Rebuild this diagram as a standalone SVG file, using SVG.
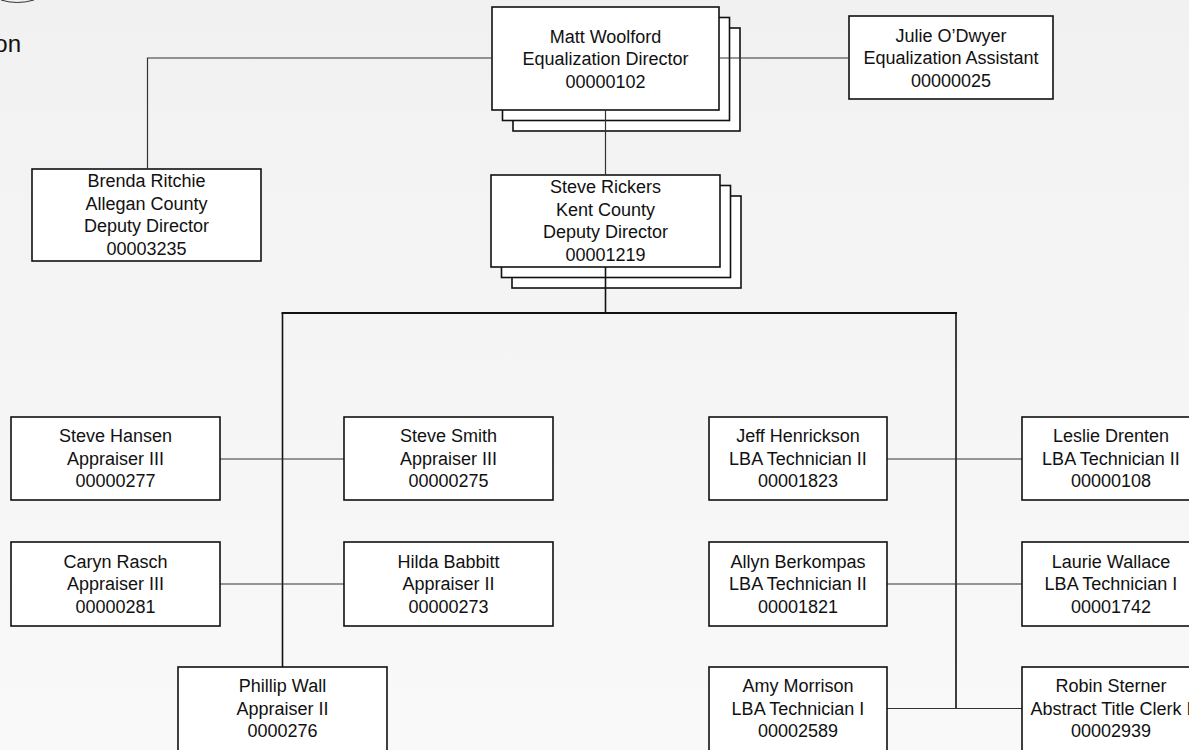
<svg xmlns="http://www.w3.org/2000/svg" width="1189" height="750" viewBox="0 0 1189 750">
<defs>
<linearGradient id="bg" x1="0" y1="0" x2="0" y2="1">
<stop offset="0" stop-color="#f1f1f1"/>
<stop offset="1" stop-color="#f9f9f9"/>
</linearGradient>
<style>
.box{fill:#ffffff;stroke:#111;stroke-width:1.6}
.t{font-family:"Liberation Sans",Arial,sans-serif;font-size:18px;fill:#111;text-anchor:middle}
.c{fill:none;stroke:#333;stroke-width:1.2}
.ck{fill:none;stroke:#111;stroke-width:1.6}
.bus{fill:none;stroke:#111;stroke-width:2.2}
</style>
</defs>
<rect x="0" y="0" width="1189" height="750" fill="url(#bg)"/>
<path d="M 1 0 Q 17 5 34 0" fill="none" stroke="#333" stroke-width="1"/>
<text x="21" y="52" font-family="'Liberation Sans',Arial,sans-serif" font-size="24" fill="#111" text-anchor="end">on</text>

<g id="node-matt">
<rect class="box" x="513" y="28" width="227" height="103"/>
<rect class="box" x="502.5" y="17.5" width="227" height="103"/>
<rect class="box" x="492" y="7" width="227" height="103"/>
<text class="t"><tspan x="605.5" y="42.5">Matt Woolford</tspan><tspan x="605.5" y="65">Equalization Director</tspan><tspan x="605.5" y="87.5">00000102</tspan></text>
</g>
<g id="node-julie">
<rect class="box" x="849" y="16" width="204" height="83"/>
<text class="t"><tspan x="951" y="41.5">Julie O’Dwyer</tspan><tspan x="951" y="64">Equalization Assistant</tspan><tspan x="951" y="86.5">00000025</tspan></text>
</g>
<g id="node-brenda">
<rect class="box" x="32" y="169" width="229" height="92"/>
<text class="t"><tspan x="146.5" y="187">Brenda Ritchie</tspan><tspan x="146.5" y="209.5">Allegan County</tspan><tspan x="146.5" y="232">Deputy Director</tspan><tspan x="146.5" y="254.5">00003235</tspan></text>
</g>
<g id="node-rickers">
<rect class="box" x="512" y="196" width="229" height="92"/>
<rect class="box" x="501.5" y="185.5" width="229" height="92"/>
<rect class="box" x="491" y="175" width="229" height="92"/>
<text class="t"><tspan x="605.5" y="193">Steve Rickers</tspan><tspan x="605.5" y="215.5">Kent County</tspan><tspan x="605.5" y="238">Deputy Director</tspan><tspan x="605.5" y="260.5">00001219</tspan></text>
</g>

<g id="connectors">
<polyline class="c" points="492,58 147.5,58 147.5,169"/>
<line class="c" x1="719" y1="58" x2="849" y2="58"/>
<line class="c" x1="605.5" y1="110" x2="605.5" y2="175"/>
<line class="ck" x1="605.5" y1="267" x2="605.5" y2="313"/>
<line class="bus" x1="281.5" y1="313" x2="957" y2="313"/>
<line class="ck" x1="282.5" y1="313" x2="282.5" y2="667"/>
<line class="ck" x1="956" y1="313" x2="956" y2="708.5"/>
<line class="c" x1="220" y1="459" x2="344" y2="459"/>
<line class="c" x1="220" y1="584" x2="344" y2="584"/>
<line class="c" x1="887" y1="459" x2="1022" y2="459"/>
<line class="c" x1="887" y1="584" x2="1022" y2="584"/>
<line class="c" x1="887" y1="708.5" x2="1022" y2="708.5"/>
</g>

<g id="node-hansen">
<rect class="box" x="11" y="417" width="209" height="83"/>
<text class="t"><tspan x="115.5" y="442">Steve Hansen</tspan><tspan x="115.5" y="464.5">Appraiser III</tspan><tspan x="115.5" y="487">00000277</tspan></text>
</g>
<g id="node-smith">
<rect class="box" x="344" y="417" width="209" height="83"/>
<text class="t"><tspan x="448.5" y="442">Steve Smith</tspan><tspan x="448.5" y="464.5">Appraiser III</tspan><tspan x="448.5" y="487">00000275</tspan></text>
</g>
<g id="node-rasch">
<rect class="box" x="11" y="542" width="209" height="84"/>
<text class="t"><tspan x="115.5" y="567.5">Caryn Rasch</tspan><tspan x="115.5" y="590">Appraiser III</tspan><tspan x="115.5" y="612.5">00000281</tspan></text>
</g>
<g id="node-babbitt">
<rect class="box" x="344" y="542" width="209" height="84"/>
<text class="t"><tspan x="448.5" y="567.5">Hilda Babbitt</tspan><tspan x="448.5" y="590">Appraiser II</tspan><tspan x="448.5" y="612.5">00000273</tspan></text>
</g>
<g id="node-wall">
<rect class="box" x="178" y="667" width="209" height="85"/>
<text class="t"><tspan x="282.5" y="692">Phillip Wall</tspan><tspan x="282.5" y="714.5">Appraiser II</tspan><tspan x="282.5" y="737">0000276</tspan></text>
</g>
<g id="node-henrickson">
<rect class="box" x="709" y="417" width="178" height="83"/>
<text class="t"><tspan x="798" y="442">Jeff Henrickson</tspan><tspan x="798" y="464.5">LBA Technician II</tspan><tspan x="798" y="487">00001823</tspan></text>
</g>
<g id="node-berkompas">
<rect class="box" x="709" y="542" width="178" height="84"/>
<text class="t"><tspan x="798" y="567.5">Allyn Berkompas</tspan><tspan x="798" y="590">LBA Technician II</tspan><tspan x="798" y="612.5">00001821</tspan></text>
</g>
<g id="node-morrison">
<rect class="box" x="709" y="667" width="178" height="85"/>
<text class="t"><tspan x="798" y="692">Amy Morrison</tspan><tspan x="798" y="714.5">LBA Technician I</tspan><tspan x="798" y="737">00002589</tspan></text>
</g>
<g id="node-drenten">
<rect class="box" x="1022" y="417" width="178" height="83"/>
<text class="t"><tspan x="1111" y="442">Leslie Drenten</tspan><tspan x="1111" y="464.5">LBA Technician II</tspan><tspan x="1111" y="487">00000108</tspan></text>
</g>
<g id="node-wallace">
<rect class="box" x="1022" y="542" width="178" height="84"/>
<text class="t"><tspan x="1111" y="567.5">Laurie Wallace</tspan><tspan x="1111" y="590">LBA Technician I</tspan><tspan x="1111" y="612.5">00001742</tspan></text>
</g>
<g id="node-sterner">
<rect class="box" x="1022" y="667" width="178" height="85"/>
<text class="t"><tspan x="1111" y="692">Robin Sterner</tspan><tspan x="1111" y="714.5">Abstract Title Clerk I</tspan><tspan x="1111" y="737">00002939</tspan></text>
</g>
</svg>
